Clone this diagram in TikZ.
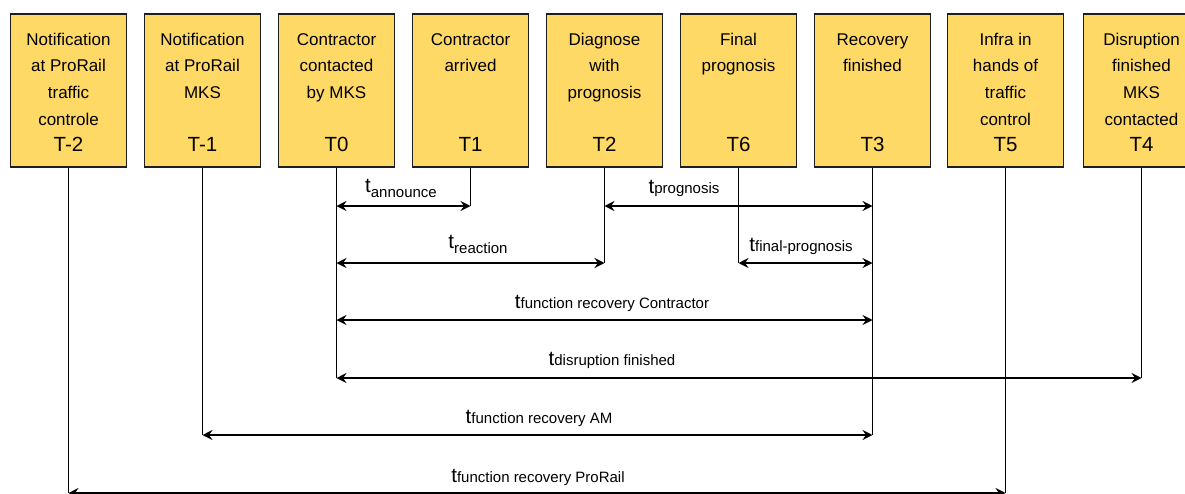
\documentclass[tikz,border=0pt]{standalone}
\usepackage{fontspec}
\setmainfont{Liberation Sans}
\usetikzlibrary{arrows.meta}
\definecolor{boxfill}{RGB}{255,217,102}
\definecolor{boxline}{RGB}{30,30,30}
% duration label: large t followed by its name (optionally lowered)
\newcommand\durlab[1]{{\fontsize{20.5}{20.5}\selectfont t}{\fontsize{15}{15}\selectfont #1}}
\newcommand\durlow[1]{{\fontsize{20.5}{20.5}\selectfont t}\raisebox{-5.5pt}{\fontsize{15}{15}\selectfont #1}}
% box description, baseline taken from its first line
\newcommand\evtext[1]{\begin{tabular}[t]{@{}c@{}}#1\end{tabular}}
\begin{document}
\begin{tikzpicture}[x=1pt,y=-1pt,
  evbox/.style={draw=boxline, fill=boxfill, line width=1.4pt, minimum width=116pt,
    minimum height=153pt, inner sep=0pt},
  desc/.style={anchor=base, inner sep=0pt,
    font=\fontsize{17}{26.7}\selectfont},
  tag/.style={anchor=base, inner sep=0pt, font=\fontsize{20.5}{20.5}\selectfont},
  drop/.style={draw=black, line width=1.3pt},
  span/.style={draw=black, line width=1.8pt,
    {Stealth[length=10pt,width=10pt,inset=3.5pt]}-{Stealth[length=10pt,width=10pt,inset=3.5pt]}},
  dlab/.style={anchor=base, inner sep=0pt}]
\useasboundingbox (0,0) rectangle (1185,493);

% event boxes with description and time tag
\foreach \px/\nm/\txt/\tg in {
   68.5/tm2/{Notification\\at ProRail\\traffic\\controle}/T-2,
  202.5/tm1/{Notification\\at ProRail\\MKS}/T-1,
  336.5/t0/{Contractor\\contacted\\by MKS}/T0,
  470.5/t1/{Contractor\\arrived}/T1,
  604.5/t2/{Diagnose\\with\\prognosis}/T2,
  738.5/t6/{Final\\prognosis}/T6,
  872.5/t3/{Recovery\\finished}/T3,
  1005.5/t5/{Infra in\\hands of\\traffic\\control}/T5,
  1141.5/t4/{Disruption\\finished\\MKS\\contacted}/T4}{
  \node[evbox] (\nm) at (\px,90.5) {};
  \node[desc] (\nm d) at (\px,45) {\evtext{\txt}};
  \node[tag] (\nm t) at (\px,151.7) {\tg};
}

% levels of the duration arrows
\coordinate (lA) at (0,206);
\coordinate (lB) at (0,263);
\coordinate (lC) at (0,320);
\coordinate (lD) at (0,378);
\coordinate (lE) at (0,435);
\coordinate (lF) at (0,493);

% drop lines below the boxes
\draw[drop] (tm2.south) -- (tm2.south |- lF);
\draw[drop] (tm1.south) -- (tm1.south |- lE);
\draw[drop] (t0.south) -- (t0.south |- lD);
\draw[drop] (t1.south) -- (t1.south |- lA);
\draw[drop] (t2.south) -- (t2.south |- lB);
\draw[drop] (t6.south) -- (t6.south |- lB);
\draw[drop] (t3.south) -- (t3.south |- lE);
\draw[drop] (t5.south) -- (t5.south |- lF);
\draw[drop] (t4.south) -- (t4.south |- lD);

% duration arrows
\draw[span] (t0.south |- lA) -- (t1.south |- lA);
\draw[span] (t2.south |- lA) -- (t3.south |- lA);
\draw[span] (t0.south |- lB) -- (t2.south |- lB);
\draw[span] (t6.south |- lB) -- (t3.south |- lB);
\draw[span] (t0.south |- lC) -- (t3.south |- lC);
\draw[span] (t0.south |- lD) -- (t4.south |- lD);
\draw[span] (tm1.south |- lE) -- (t3.south |- lE);
\draw[span] (tm2.south |- lF) -- (t5.south |- lF);

% duration labels
\node[dlab] (dann) at (401,192) {\durlow{announce}};
\node[dlab] (drea) at (478,248) {\durlow{reaction}};
\node[dlab] (dpro) at (684,193) {\durlab{prognosis}};
\node[dlab] (dfin) at (801,251) {\durlab{final-prognosis}};
\node[dlab] (dcon) at (612,308) {\durlab{function recovery Contractor}};
\node[dlab] (ddis) at (612,365) {\durlab{disruption finished}};
\node[dlab] (dam)  at (539,423) {\durlab{function recovery AM}};
\node[dlab] (dpr)  at (538,482) {\durlab{function recovery ProRail}};
\end{tikzpicture}
\end{document}
